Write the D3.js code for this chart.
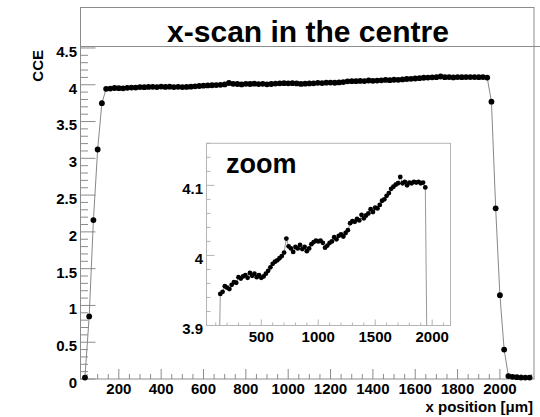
<!DOCTYPE html>
<html>
<head>
<meta charset="utf-8">
<script src="https://cdn.jsdelivr.net/npm/d3@7"></script>
<style>
  html, body { margin: 0; padding: 0; background: #fff; }
  svg { display: block; }
  text { font-family: "Liberation Sans", Arial, Helvetica, sans-serif; font-weight: bold; fill: #000; }
</style>
</head>
<body>
<svg id="chart" width="540" height="417"></svg>
<script>
// ---- data ----
const edgeRiseX = [40, 60, 80, 100, 120];
const edgeRiseY = [0.02, 0.85, 2.16, 3.12, 3.75];
const plateauX = d3.range(140, 1941, 20);
const plateauY = [
  3.945, 3.948, 3.956, 3.954, 3.952, 3.958, 3.962, 3.961, 3.969, 3.967,
  3.970, 3.972, 3.968, 3.975, 3.971, 3.974, 3.969, 3.972, 3.968, 3.970,
  3.974, 3.978, 3.983, 3.988, 3.991, 3.993, 3.996, 3.999, 4.004, 4.024,
  4.013, 4.010, 4.005, 4.012, 4.010, 4.015, 4.009, 4.012, 4.006, 4.010,
  4.016, 4.019, 4.021, 4.020, 4.021, 4.018, 4.011, 4.014, 4.018, 4.020,
  4.026, 4.023, 4.028, 4.030, 4.027, 4.032, 4.036, 4.046, 4.049, 4.048,
  4.052, 4.050, 4.058, 4.053, 4.057, 4.060, 4.066, 4.062, 4.068, 4.067,
  4.072, 4.078, 4.080, 4.085, 4.089, 4.095, 4.098, 4.101, 4.103, 4.112,
  4.103, 4.105, 4.100, 4.104, 4.103, 4.105, 4.104, 4.105, 4.103, 4.104,
  4.097
];
const edgeFallX = [1960, 1980, 2000, 2020, 2040, 2060, 2080, 2100, 2120, 2140];
const edgeFallY = [3.77, 2.32, 1.14, 0.40, 0.04, 0.03, 0.025, 0.02, 0.02, 0.02];

const mainYTicks = [0, 0.5, 1, 1.5, 2, 2.5, 3, 3.5, 4, 4.5];
const mainXTicks = [200, 400, 600, 800, 1000, 1200, 1400, 1600, 1800, 2000];
const insetYTicks = [3.9, 4.0, 4.1];
const insetXTicks = [500, 1000, 1500, 2000];

const titleText = "x-scan in the centre";
const xTitle = "x position [\u03BCm]";
const yTitle = "CCE";
const insetLabel = "zoom";

const xs = [].concat(edgeRiseX, plateauX, edgeFallX);
const ys = [].concat(edgeRiseY, plateauY, edgeFallY);
const points = xs.map((x, i) => ({x: x, y: ys[i]}));

// ---- layout ----
const svg = d3.select("#chart");
const axisColor = "#8c8c8c";
const frame = {l: 80.5, r: 534, t: 46.5, b: 379, top: 7.5};

const x = d3.scaleLinear().domain([19, 2161]).range([frame.l, frame.r]);
const y = d3.scaleLinear().domain([0, 4.52]).range([frame.b, frame.t]);

// frame + title box
svg.append("rect").attr("x", frame.l).attr("y", frame.top)
  .attr("width", frame.r - frame.l).attr("height", frame.b - frame.top)
  .attr("fill", "none").attr("stroke", axisColor).attr("stroke-width", 1);
svg.append("line").attr("x1", frame.l).attr("x2", 540).attr("y1", frame.t).attr("y2", frame.t)
  .attr("stroke", axisColor).attr("stroke-width", 1.2);

// main y ticks
const yMinor = d3.range(0, 4.5001, 0.1);
svg.append("g").selectAll("line").data(yMinor).join("line")
  .attr("x1", frame.l).attr("x2", d => frame.l + (Math.abs(d * 2 - Math.round(d * 2)) < 1e-6 ? 15 : 7.5))
  .attr("y1", d => y(d)).attr("y2", d => y(d))
  .attr("stroke", axisColor).attr("stroke-width", 1);
svg.append("g").selectAll("text").data(mainYTicks).join("text")
  .attr("x", 77).attr("y", d => y(d) + 3.5).attr("dy", "0.36em")
  .attr("text-anchor", "end").attr("font-size", 15)
  .text(d => d3.format("")(d));

// main x ticks
const xMinor = d3.range(50, 2151, 50);
svg.append("g").selectAll("line").data(xMinor).join("line")
  .attr("x1", d => x(d)).attr("x2", d => x(d))
  .attr("y1", frame.b).attr("y2", d => frame.b - (d % 200 === 0 ? 10 : 5))
  .attr("stroke", axisColor).attr("stroke-width", 1);
svg.append("g").selectAll("text").data(mainXTicks).join("text")
  .attr("x", d => x(d)).attr("y", 394)
  .attr("text-anchor", "middle").attr("font-size", 15)
  .text(d => d);

// titles
svg.append("text").attr("x", 308).attr("y", 42).attr("text-anchor", "middle")
  .attr("font-size", 30).text(titleText);
svg.append("text").attr("x", 533).attr("y", 412).attr("text-anchor", "end")
  .attr("font-size", 15).text(xTitle);
svg.append("text").attr("transform", "translate(43,50) rotate(-90)")
  .attr("text-anchor", "end").attr("font-size", 15).text(yTitle);

// main data
const line = d3.line().x(d => x(d.x)).y(d => y(d.y));
svg.append("path").datum(points).attr("d", line)
  .attr("fill", "none").attr("stroke", "#888").attr("stroke-width", 1);
svg.append("g").selectAll("circle").data(points).join("circle")
  .attr("cx", d => x(d.x)).attr("cy", d => y(d.y)).attr("r", 2.9).attr("fill", "#000");

// ---- inset ----
const ins = {l: 206.5, r: 450.5, t: 143.3, b: 325.5};
const xi = d3.scaleLinear().domain([19, 2161]).range([ins.l, ins.r]);
const yi = d3.scaleLinear().domain([3.9, 4.16]).range([ins.b, ins.t]);
const insetColor = "#b4b4b4";

svg.append("rect").attr("x", ins.l).attr("y", ins.t)
  .attr("width", ins.r - ins.l).attr("height", ins.b - ins.t)
  .attr("fill", "#fff").attr("stroke", insetColor).attr("stroke-width", 1);

svg.append("clipPath").attr("id", "insclip").append("rect")
  .attr("x", ins.l).attr("y", ins.t).attr("width", ins.r - ins.l).attr("height", ins.b - ins.t);

const yiMinor = d3.range(3.9, 4.1601, 0.02);
svg.append("g").selectAll("line").data(yiMinor).join("line")
  .attr("x1", ins.l).attr("x2", d => ins.l + (Math.abs(d * 10 - Math.round(d * 10)) < 1e-6 ? 8 : 4))
  .attr("y1", d => yi(d)).attr("y2", d => yi(d))
  .attr("stroke", insetColor).attr("stroke-width", 1);
svg.append("g").selectAll("text").data(insetYTicks).join("text")
  .attr("x", 203).attr("y", d => yi(d) + 3.5).attr("dy", "0.36em")
  .attr("text-anchor", "end").attr("font-size", 15)
  .text(d => d3.format("")(+d.toFixed(1)));

const xiMinor = d3.range(100, 2101, 100);
svg.append("g").selectAll("line").data(xiMinor).join("line")
  .attr("x1", d => xi(d)).attr("x2", d => xi(d))
  .attr("y1", ins.b).attr("y2", d => ins.b - (d % 500 === 0 ? 6 : 3))
  .attr("stroke", insetColor).attr("stroke-width", 1);
svg.append("g").selectAll("text").data(insetXTicks).join("text")
  .attr("x", d => xi(d)).attr("y", 342)
  .attr("text-anchor", "middle").attr("font-size", 15)
  .text(d => d);

const lineI = d3.line().x(d => xi(d.x)).y(d => yi(d.y));
const gi = svg.append("g").attr("clip-path", "url(#insclip)");
gi.append("path").datum(points).attr("d", lineI)
  .attr("fill", "none").attr("stroke", "#999").attr("stroke-width", 1);
gi.selectAll("circle").data(points).join("circle")
  .attr("cx", d => xi(d.x)).attr("cy", d => yi(d.y)).attr("r", 2.4).attr("fill", "#000");

svg.append("text").attr("x", 226).attr("y", 173).attr("font-size", 27).text(insetLabel);
</script>
</body>
</html>
